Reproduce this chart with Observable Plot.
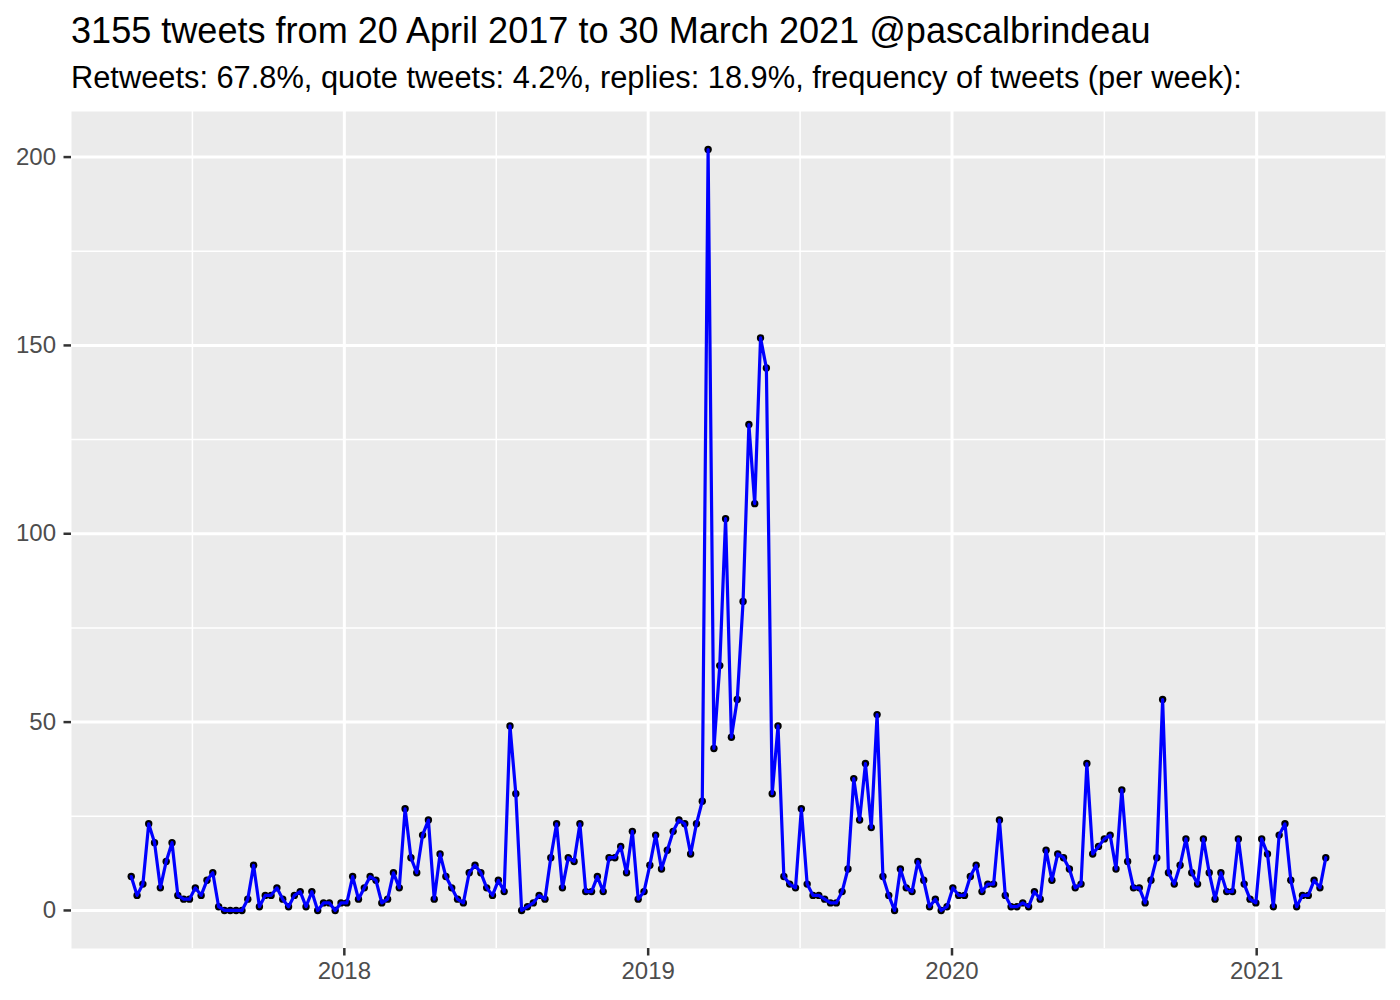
<!DOCTYPE html>
<html>
<head>
<meta charset="utf-8">
<script src="https://cdn.jsdelivr.net/npm/d3@7"></script>
<script src="https://cdn.jsdelivr.net/npm/@observablehq/plot@0.6"></script>
<style>
  html, body { margin: 0; padding: 0; background: #ffffff; }
  #wrap { position: relative; width: 1400px; height: 1000px; font-family: "Liberation Sans", Arial, Helvetica, sans-serif; }
  #title { position: absolute; left: 71px; top: 13px; font-size: 36.1px; line-height: 36px; color: #000; white-space: nowrap; }
  #subtitle { position: absolute; left: 71px; top: 63px; font-size: 30.8px; line-height: 30px; color: #000; white-space: nowrap; }
  #chart { position: absolute; left: 0; top: 0; }
</style>
</head>
<body>
<div id="wrap">
  <div id="chart"></div>
  <div id="title">3155 tweets from 20 April 2017 to 30 March 2021 @pascalbrindeau</div>
  <div id="subtitle">Retweets: 67.8%, quote tweets: 4.2%, replies: 18.9%, frequency of tweets (per week):</div>
</div>
<script>
// Weekly bins starting on this date (one value per week)
const firstWeek = "2017-04-20";

// Tweets per week
const tweetsPerWeek = [
  9,4,7,23,18,6,13,18,4,3,
  3,6,4,8,10,1,0,0,0,0,
  3,12,1,4,4,6,3,1,4,5,
  1,5,0,2,2,0,2,2,9,3,
  6,9,8,2,3,10,6,27,14,10,
  20,24,3,15,9,6,3,2,10,12,
  10,6,4,8,5,49,31,0,1,2,
  4,3,14,23,6,14,13,23,5,5,
  9,5,14,14,17,10,21,3,5,12,
  20,11,16,21,24,23,15,23,29,202,
  43,65,104,46,56,82,129,108,152,144,
  31,49,9,7,6,27,7,4,4,3,
  2,2,5,11,35,24,39,22,52,9,
  4,0,11,6,5,13,8,1,3,0,
  1,6,4,4,9,12,5,7,7,24,
  4,1,1,2,1,5,3,16,8,15,
  14,11,6,7,39,15,17,19,20,11,
  32,13,6,6,2,8,14,56,10,7,
  12,19,10,7,19,10,3,10,5,5,
  19,7,3,2,19,15,1,20,23,8,
  1,4,4,8,6,14
];

// Axis tick labels
const yearTicks = ["2018-01-01", "2019-01-01", "2020-01-01", "2021-01-01"];
const yTicks = [0, 50, 100, 150, 200];
const yMinorTicks = [25, 75, 125, 175];

const start = new Date(firstWeek + "T00:00:00Z");
const data = tweetsPerWeek.map((n, i) => ({
  date: d3.utcDay.offset(start, 7 * i),
  n
}));

const xMajor = yearTicks.map(s => new Date(s + "T00:00:00Z"));
// minor breaks: midpoints between year breaks (ggplot style)
const xMinorAll = [new Date("2017-01-01T00:00:00Z"), ...xMajor];
const xMinor = [];
for (let i = 0; i < xMinorAll.length - 1; i++) {
  xMinor.push(new Date((+xMinorAll[i] + +xMinorAll[i + 1]) / 2));
}

// ggplot-like 5% expansion
const [d0, d1] = d3.extent(data, d => +d.date);
const padX = (d1 - d0) * 0.05;
const xDomain = [new Date(d0 - padX), new Date(d1 + padX)];
const yMax = d3.max(data, d => d.n);
const yDomain = [-yMax * 0.05, yMax * 1.05];

const chart = Plot.plot({
  width: 1400,
  height: 1000,
  marginLeft: 71,
  marginRight: 15,
  marginTop: 111,
  marginBottom: 52,
  style: { fontFamily: "'Liberation Sans', Arial, Helvetica, sans-serif", background: "transparent" },
  x: { type: "utc", domain: xDomain, axis: null },
  y: { domain: yDomain, axis: null },
  marks: [
    Plot.frame({ fill: "#EBEBEB", stroke: null }),
    Plot.gridX(xMinor.filter(d => d >= xDomain[0] && d <= xDomain[1]), { stroke: "#ffffff", strokeOpacity: 1, strokeWidth: 1.5 }),
    Plot.gridY(yMinorTicks, { stroke: "#ffffff", strokeOpacity: 1, strokeWidth: 1.5 }),
    Plot.gridX(xMajor, { stroke: "#ffffff", strokeOpacity: 1, strokeWidth: 3 }),
    Plot.gridY(yTicks, { stroke: "#ffffff", strokeOpacity: 1, strokeWidth: 3 }),
    Plot.axisX(xMajor, {
      tickFormat: d3.utcFormat("%Y"),
      tickSize: 7.5, tickPadding: 6,
      stroke: "#333333", strokeWidth: 2.5,
      color: "#4D4D4D", fill: "#4D4D4D",
      fontSize: 24, label: null
    }),
    Plot.axisY(yTicks, {
      tickSize: 7.5, tickPadding: 8,
      stroke: "#333333", strokeWidth: 2.5,
      color: "#4D4D4D", fill: "#4D4D4D",
      fontSize: 24, label: null
    }),
    Plot.dot(data, { x: "date", y: "n", r: 3.7, fill: "#000000", stroke: null }),
    Plot.line(data, { x: "date", y: "n", stroke: "#0000FF", strokeWidth: 3.2 })
  ]
});

document.getElementById("chart").appendChild(chart);
</script>
</body>
</html>
